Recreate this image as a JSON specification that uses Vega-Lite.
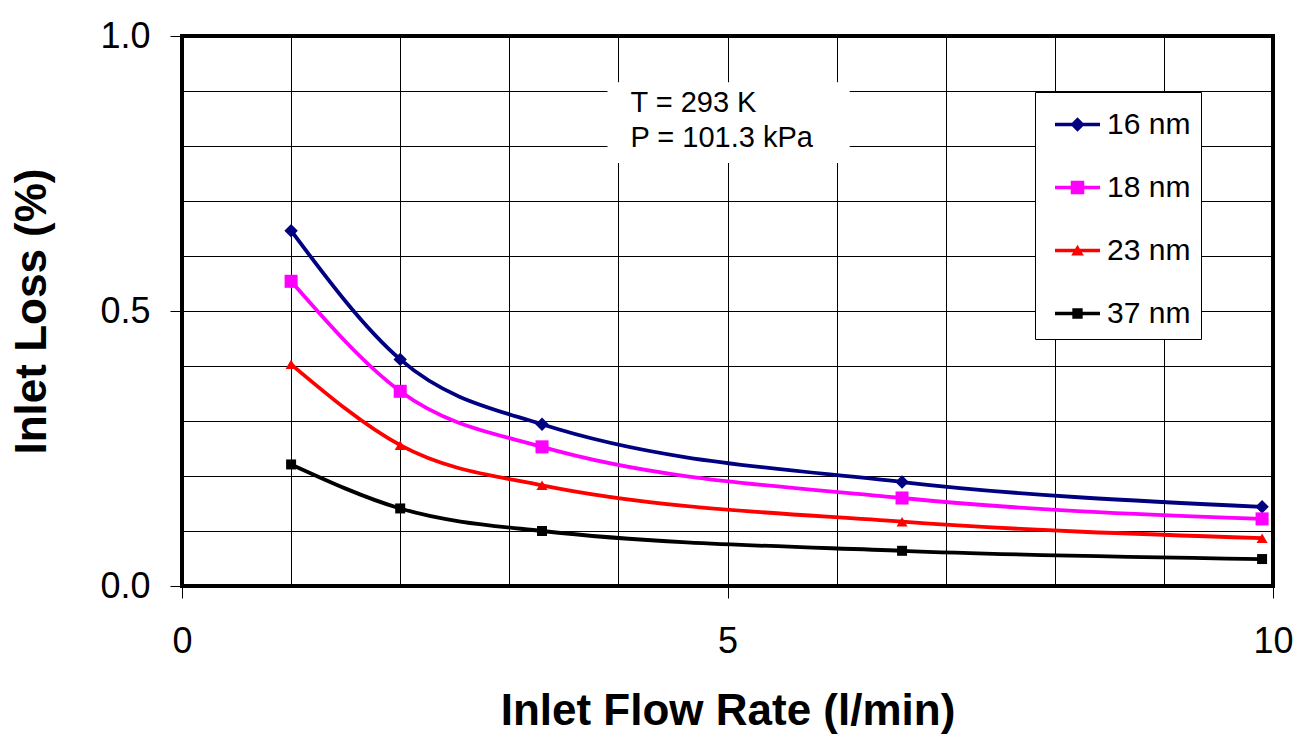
{
  "$schema": "https://vega.github.io/schema/vega-lite/v6.json",
  "width": 1091,
  "height": 550,
  "autosize": {"type": "none"},
  "padding": {"left": 182, "top": 36, "right": 24, "bottom": 163},
  "background": "white",
  "config": {
    "font": "Liberation Sans",
    "view": {"stroke": "black", "strokeWidth": 4},
    "axis": {
      "domain": false,
      "grid": true,
      "gridColor": "black",
      "gridWidth": 1,
      "gridOpacity": 1,
      "tickColor": "black",
      "tickWidth": 1,
      "tickSize": 12,
      "labelFont": "Liberation Sans",
      "labelFontSize": 36,
      "labelColor": "black",
      "titleFont": "Liberation Sans",
      "titleFontSize": 44,
      "titleFontWeight": "bold",
      "titleColor": "black"
    },
    "legend": {
      "labelFont": "Liberation Sans",
      "labelFontSize": 30,
      "labelColor": "black"
    }
  },
  "layer": [
    {
      "data": {"values": [{"x1": 3.9, "x2": 6.12, "y1": 0.769, "y2": 0.916}]},
      "mark": {"type": "rect", "fill": "white", "strokeWidth": 0},
      "encoding": {
        "x": {"field": "x1", "type": "quantitative"},
        "x2": {"field": "x2"},
        "y": {"field": "y1", "type": "quantitative"},
        "y2": {"field": "y2"}
      }
    },
    {
      "data": {"values": [
        {"x": 4.11, "y": 0.862, "t": "T = 293 K"},
        {"x": 4.11, "y": 0.798, "t": "P = 101.3 kPa"}
      ]},
      "mark": {"type": "text", "align": "left", "baseline": "alphabetic", "fontSize": 29, "font": "Liberation Sans", "color": "black"},
      "encoding": {
        "x": {"field": "x", "type": "quantitative"},
        "y": {"field": "y", "type": "quantitative"},
        "text": {"field": "t"}
      }
    },
    {
      "data": {"values": [
        {"series": "16 nm", "flow": 1, "loss": 0.646},
        {"series": "16 nm", "flow": 2, "loss": 0.412},
        {"series": "16 nm", "flow": 3.3, "loss": 0.294},
        {"series": "16 nm", "flow": 6.6, "loss": 0.189},
        {"series": "16 nm", "flow": 9.9, "loss": 0.144},
        {"series": "18 nm", "flow": 1, "loss": 0.554},
        {"series": "18 nm", "flow": 2, "loss": 0.354},
        {"series": "18 nm", "flow": 3.3, "loss": 0.253},
        {"series": "18 nm", "flow": 6.6, "loss": 0.160},
        {"series": "18 nm", "flow": 9.9, "loss": 0.122},
        {"series": "23 nm", "flow": 1, "loss": 0.403},
        {"series": "23 nm", "flow": 2, "loss": 0.256},
        {"series": "23 nm", "flow": 3.3, "loss": 0.183},
        {"series": "23 nm", "flow": 6.6, "loss": 0.117},
        {"series": "23 nm", "flow": 9.9, "loss": 0.087},
        {"series": "37 nm", "flow": 1, "loss": 0.221},
        {"series": "37 nm", "flow": 2, "loss": 0.141},
        {"series": "37 nm", "flow": 3.3, "loss": 0.100},
        {"series": "37 nm", "flow": 6.6, "loss": 0.064},
        {"series": "37 nm", "flow": 9.9, "loss": 0.049}
      ]},
      "layer": [
        {
          "mark": {"type": "line", "interpolate": "monotone", "strokeWidth": 3.8},
          "encoding": {
            "x": {
              "field": "flow", "type": "quantitative",
              "scale": {"domain": [0, 10], "nice": false, "zero": false},
              "axis": {
                "title": "Inlet Flow Rate (l/min)",
                "values": [0, 1, 2, 3, 4, 5, 6, 7, 8, 9, 10],
                "format": "d",
                "labelExpr": "datum.value % 5 == 0 ? datum.label : ''",
                "tickOpacity": {"condition": {"test": "datum.value % 5 == 0", "value": 1}, "value": 0},
                "labelPadding": 26,
                "titlePadding": 30,
                "labelFlush": false
              }
            },
            "y": {
              "field": "loss", "type": "quantitative",
              "scale": {"domain": [0, 1], "nice": false},
              "axis": {
                "title": "Inlet Loss (%)",
                "values": [0, 0.1, 0.2, 0.3, 0.4, 0.5, 0.6, 0.7, 0.8, 0.9, 1],
                "format": ".1f",
                "labelExpr": "(datum.value == 0 || datum.value == 0.5 || datum.value == 1) ? datum.label : ''",
                "tickOpacity": {"condition": {"test": "datum.value == 0 || datum.value == 0.5 || datum.value == 1", "value": 1}, "value": 0},
                "labelPadding": 20,
                "titlePadding": 45,
                "labelFlush": false
              }
            },
            "color": {
              "field": "series", "type": "nominal",
              "scale": {"domain": ["16 nm", "18 nm", "23 nm", "37 nm"], "range": ["#000080", "#FF00FF", "#FF0000", "#000000"]},
              "legend": {
                "title": null,
                "orient": "none",
                "legendX": 853,
                "legendY": 56,
                "strokeColor": "black",
                "fillColor": "white",
                "padding": 10,
                "rowPadding": 25,
                "symbolSize": 2025,
                "symbolOffset": 10,
                "labelOffset": 7,
                "symbolType": "square",
                "symbolStrokeWidth": 0,
                "encode": {
                  "symbols": {
                    "update": {
                      "shape": {"signal": "datum.value === '16 nm' ? 'M-1,-0.08H1V0.08H-1ZM0,-0.32L0.32,0L0,0.32L-0.32,0Z' : datum.value === '18 nm' ? 'M-1,-0.08H1V0.08H-1ZM-0.3,-0.3H0.3V0.3H-0.3Z' : datum.value === '23 nm' ? 'M-1,-0.08H1V0.08H-1ZM0,-0.26L0.28,0.22H-0.28Z' : 'M-1,-0.08H1V0.08H-1ZM-0.23,-0.23H0.23V0.23H-0.23Z'"},
                      "fill": {"signal": "datum.value === '16 nm' ? '#000080' : datum.value === '18 nm' ? '#FF00FF' : datum.value === '23 nm' ? '#FF0000' : '#000000'"},
                      "fillOpacity": {"value": 1},
                      "opacity": {"value": 1},
                      "strokeWidth": {"value": 0}
                    }
                  }
                }
              }
            }
          }
        },
        {
          "transform": [{"filter": "datum.series == '16 nm'"}],
          "mark": {"type": "point", "filled": true, "opacity": 1, "strokeWidth": 0, "shape": "diamond", "size": 180, "color": "#000080"},
          "encoding": {
            "x": {"field": "flow", "type": "quantitative"},
            "y": {"field": "loss", "type": "quantitative"}
          }
        },
        {
          "transform": [{"filter": "datum.series == '18 nm'"}],
          "mark": {"type": "point", "filled": true, "opacity": 1, "strokeWidth": 0, "shape": "square", "size": 170, "color": "#FF00FF"},
          "encoding": {
            "x": {"field": "flow", "type": "quantitative"},
            "y": {"field": "loss", "type": "quantitative"}
          }
        },
        {
          "transform": [{"filter": "datum.series == '23 nm'"}],
          "mark": {"type": "point", "filled": true, "opacity": 1, "strokeWidth": 0, "shape": "triangle-up", "size": 121, "color": "#FF0000"},
          "encoding": {
            "x": {"field": "flow", "type": "quantitative"},
            "y": {"field": "loss", "type": "quantitative"}
          }
        },
        {
          "transform": [{"filter": "datum.series == '37 nm'"}],
          "mark": {"type": "point", "filled": true, "opacity": 1, "strokeWidth": 0, "shape": "square", "size": 100, "color": "#000000"},
          "encoding": {
            "x": {"field": "flow", "type": "quantitative"},
            "y": {"field": "loss", "type": "quantitative"}
          }
        }
      ]
    }
  ]
}
